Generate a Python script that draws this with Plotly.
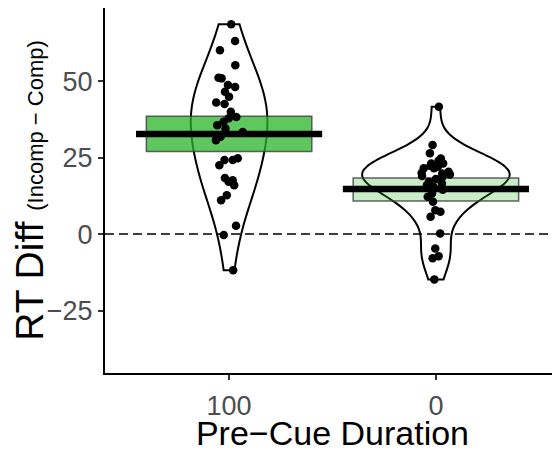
import numpy as np
import plotly.graph_objects as go

categories = ["100", "0"]
positions = [1, 2]

rt_diff_100 = [68.6, 63.1, 60.1, 55.2, 51.1, 50.9, 48.7, 48.1, 46.5, 44.9, 43.0,
               42.5, 40.0, 38.3, 37.9, 36.7, 35.6, 34.5, 33.4, 31.8, 30.7, 24.2,
               24.2, 24.8, 22.5, 17.6, 18.3, 17.1, 16.0, 12.7, 11.1, 2.7, -0.3, -11.8]
rt_diff_0 = [41.6, 29.1, 26.4, 24.7, 23.1, 23.1, 21.5, 21.5, 20.4, 19.8, 18.7,
             17.1, 15.5, 13.3, 12.2, 10.6, 7.8, 7.3, 5.7, 0.2, -4.7, -7.9, -7.2,
             -14.8, 22.3, 19.0, 16.5, 24.0, 18.0, 20.0, 16.0, 14.5, 22.0, 19.5]

means = [32.7, 14.7]
ci_low = [27.0, 10.8]
ci_high = [38.5, 18.3]
box_fills = ["rgba(40,180,40,0.75)", "rgba(40,180,40,0.25)"]
y_ticks = [-25, 0, 25, 50]

# styling per violin: max width (x units) and bandwidth adjust factor
violin_widths = [0.37, 0.71]
bw_adjust = [1.4, 1.5]


def nrd0(x):
    x = np.asarray(x, dtype=float)
    sd = np.std(x, ddof=1)
    q75, q25 = np.percentile(x, [75, 25])
    lo = min(sd, (q75 - q25) / 1.34)
    return 0.9 * lo * len(x) ** -0.2


groups = [rt_diff_100, rt_diff_0]
fig = go.Figure()

for i, (p, vals) in enumerate(zip(positions, groups)):
    fig.add_trace(go.Violin(
        x=[p] * len(vals), y=vals, spanmode="hard",
        bandwidth=nrd0(vals) * bw_adjust[i],
        scalegroup="v%d" % i, scalemode="width", width=violin_widths[i],
        line=dict(color="black", width=2), fillcolor="rgba(0,0,0,0)",
        points=False, box_visible=False, meanline_visible=False,
        hoverinfo="skip", showlegend=False))

for i, p in enumerate(positions):
    fig.add_trace(go.Box(
        x=[p], q1=[ci_low[i]], median=[means[i]], q3=[ci_high[i]],
        lowerfence=[ci_low[i]], upperfence=[ci_high[i]], width=0.8,
        fillcolor=box_fills[i], line=dict(color="rgba(60,60,60,0.8)", width=1.5),
        boxpoints=False, hoverinfo="skip", showlegend=False))

all_x = []
all_y = []
for p, vals in zip(positions, groups):
    all_x += [p] * len(vals)
    all_y += vals
fig.add_trace(go.Box(
    x=all_x, y=all_y, boxpoints="all", jitter=1, pointpos=0, width=0.16,
    fillcolor="rgba(0,0,0,0)", line=dict(color="rgba(0,0,0,0)", width=0),
    marker=dict(color="black", size=8.5, line=dict(width=0)),
    hoverinfo="skip", showlegend=False))

mx, my = [], []
for p, m in zip(positions, means):
    mx += [p - 0.45, p + 0.45, None]
    my += [m, m, None]
fig.add_trace(go.Scatter(x=mx, y=my, mode="lines",
                         line=dict(color="black", width=6.5),
                         hoverinfo="skip", showlegend=False))

fig.add_shape(type="line", xref="paper", x0=0, x1=1, yref="y", y0=0, y1=0,
              line=dict(color="black", width=1.5, dash="9px,5px"), layer="below")

fig.update_layout(
    width=552, height=444, autosize=False,
    margin=dict(l=97, r=0, t=0, b=79, pad=0),
    plot_bgcolor="white", paper_bgcolor="white",
    boxmode="overlay", violinmode="overlay", showlegend=False,
    font=dict(family="Liberation Sans, Arial, sans-serif", color="black"),
)
fig.update_xaxes(
    range=[0.4, 2.6], tickvals=positions, ticktext=categories,
    showline=True, linecolor="black", linewidth=2,
    ticks="outside", ticklen=5, tickcolor="#333333", tickwidth=1.5,
    tickfont=dict(size=27, color="#4D4D4D"), ticklabelstandoff=3,
    showgrid=False, zeroline=False,
    title=dict(text="Pre−Cue Duration", font=dict(size=34, color="black"), standoff=0),
)
fig.update_yaxes(
    range=[-45.4, 73.9], tickvals=y_ticks,
    showline=True, linecolor="black", linewidth=2,
    ticks="outside", ticklen=5, tickcolor="#333333", tickwidth=1.5,
    tickfont=dict(size=27, color="#4D4D4D"),
    showgrid=False, zeroline=False,
    title=dict(text='RT Diff <span style="font-size:22px">(Incomp − Comp)</span>',
               font=dict(size=39, color="black"), standoff=6),
)

fig.write_html("out.html")
